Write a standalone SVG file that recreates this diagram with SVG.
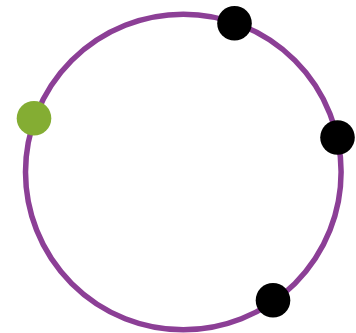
<svg xmlns="http://www.w3.org/2000/svg" width="356" height="333" viewBox="0 0 356 333">
<style>
.ring{fill:none;stroke:#8c3f96;stroke-width:5.5}
.dot{fill:#000}
.start{fill:#84ad33}
</style>
<rect width="356" height="333" fill="#fff"/>
<g id="connectors">
<circle class="ring" cx="183.3" cy="172" r="157.8"/>
</g>
<g id="node-green"><circle class="start" cx="34" cy="118.3" r="17.3"/></g>
<g id="node-top"><circle class="dot" cx="234.5" cy="23.3" r="17.3"/></g>
<g id="node-right"><circle class="dot" cx="337.5" cy="137.5" r="17.3"/></g>
<g id="node-bottom"><circle class="dot" cx="273" cy="300.3" r="17.3"/></g>
</svg>
